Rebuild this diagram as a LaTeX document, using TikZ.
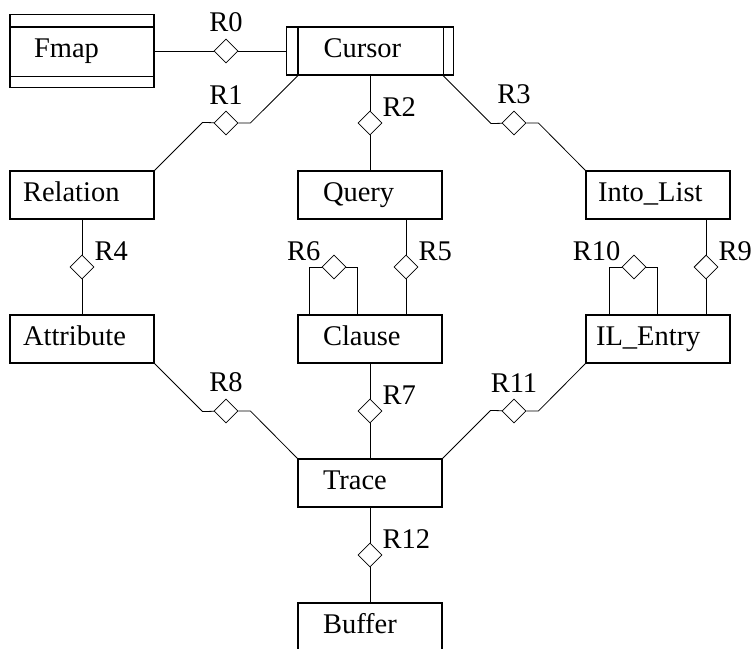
\documentclass[tikz,border=0pt]{standalone}
\usepackage{fontspec}
\setmainfont{Liberation Serif}
\usetikzlibrary{shapes.geometric}

\tikzset{
  ent/.style 2 args={draw, line width=1.1pt, inner xsep=#1, text width=#2,
    align=left, text height=20pt, text depth=7pt, inner ysep=10.5pt},
  rel/.style={draw, diamond, inner sep=0pt, minimum width=24pt, minimum height=24pt},
  up/.style={label={[inner sep=0pt, yshift=6pt]above:#1}},
  ur/.style={label={[inner sep=0pt, xshift=6pt]above right:#1}},
  ul/.style={label={[inner sep=0pt, xshift=-7pt]above left:#1}}
}

\begin{document}
\begin{tikzpicture}[x=1pt, y=-1pt, line width=0.8pt, font=\fontsize{28.5}{34}\selectfont]
\clip (0,0) rectangle (751,648);

\node[ent={24pt}{96pt}, inner ysep=23pt] (fmap) at (82,51) {Fmap};
\node[ent={37pt}{93pt}] (cursor) at (370,51) {Cursor};
\node[ent={13pt}{118pt}] (relation) at (82,195) {Relation};
\node[ent={25pt}{94pt}] (query) at (370,195) {Query};
\node[ent={12pt}{120pt}] (intolist) at (658,195) {Into\_List};
\node[ent={13pt}{118pt}] (attribute) at (82,339) {Attribute};
\node[ent={25pt}{94pt}] (clause) at (370,339) {Clause};
\node[ent={10pt}{124pt}] (ilentry) at (658,339) {IL\_Entry};
\node[ent={25pt}{94pt}] (trace) at (370,483) {Trace};
\node[ent={25pt}{94pt}] (buffer) at (370,627) {Buffer};

\draw[line width=1.1pt] ([yshift=-13pt]fmap.north west) -- ([yshift=-13pt]fmap.north east);
\draw[line width=1.1pt] ([yshift=12pt]fmap.south west) -- ([yshift=12pt]fmap.south east);
\draw[line width=1.1pt] ([xshift=12pt]cursor.north west) -- ([xshift=12pt]cursor.south west);
\draw[line width=1.1pt] ([xshift=-11pt]cursor.north east) -- ([xshift=-11pt]cursor.south east);

\node[rel, up=R0] (r0) at (226,51) {};
\node[rel, up=R1] (r1) at (226,123) {};
\node[rel, ur=R2] (r2) at (370,123) {};
\node[rel, up=R3] (r3) at (514,123) {};
\node[rel, ur=R4] (r4) at (82,267) {};
\node[rel, ur=R5] (r5) at (406,267) {};
\node[rel, ul=R6] (r6) at (334,267) {};
\node[rel, ur=R7] (r7) at (370,411) {};
\node[rel, up=R8] (r8) at (226,411) {};
\node[rel, ur=R9] (r9) at (706,267) {};
\node[rel, ul=R10] (r10) at (634,267) {};
\node[rel, up=R11] (r11) at (514,411) {};
\node[rel, ur=R12] (r12) at (370,555) {};

\draw (fmap) -- (r0) -- (cursor);
\draw (relation.north east) -- ++(48,-48) -- (r1) -- ([xshift=12pt]r1.east) -- ([xshift=12pt]cursor.south west);
\draw (cursor) -- (r2) -- (query);
\draw ([xshift=-11pt]cursor.south east) -- ++(48,48) -- (r3) -- ([xshift=12pt]r3.east) -- (intolist.north west);
\draw (relation) -- (r4) -- (attribute);
\draw (r5 |- query.south) -- (r5) -- (r5 |- clause.north);
\draw ([xshift=12pt]clause.north west) |- (r6) -| ([xshift=60pt]clause.north west);
\draw (r9 |- intolist.south) -- (r9) -- (r9 |- ilentry.north);
\draw ([xshift=24pt]ilentry.north west) |- (r10) -| ([xshift=72pt]ilentry.north west);
\draw (attribute.south east) -- ++(48,48) -- (r8) -- ([xshift=12pt]r8.east) -- (trace.north west);
\draw (clause) -- (r7) -- (trace);
\draw (trace.north east) -- ++(48,-48) -- (r11) -- ([xshift=12pt]r11.east) -- (ilentry.south west);
\draw (trace) -- (r12) -- (buffer);
\end{tikzpicture}
\end{document}
